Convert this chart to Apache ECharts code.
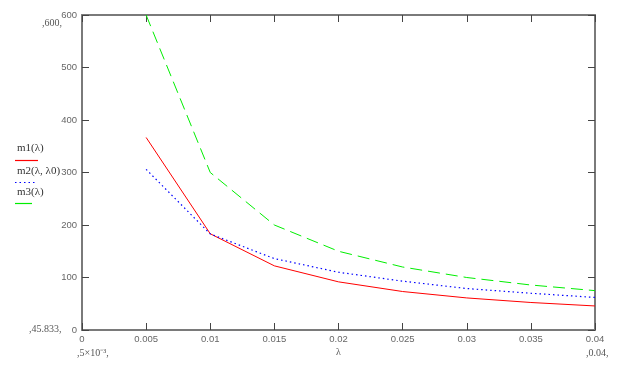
<!DOCTYPE html>
<html>
<head>
<meta charset="utf-8">
<script src="https://cdn.jsdelivr.net/npm/echarts@6/dist/echarts.min.js"></script>
<style>html,body{margin:0;padding:0;background:#fff}#c{width:623px;height:365px}</style>
</head>
<body>
<div id="c"></div>
<script>
// Data
const lambdas = [0.005, 0.01, 0.015, 0.02, 0.025, 0.03, 0.035, 0.04];
const m1 = [366.7, 183.3, 122.2, 91.7, 73.3, 61.1, 52.4, 45.8];
const m2 = [306, 183, 136, 110, 93, 79, 70, 62];
const m3 = [600, 300, 200, 150, 120, 100, 85.7, 75];
const seriesNames = ['m1(λ)', 'm2(λ, λ0)', 'm3(λ)'];
const xTicks = { min: 0, max: 0.04, step: 0.005 };
const yTicks = { min: 0, max: 600, step: 100 };
const limitLabels = { yTop: ',600,', yBottom: ',45.833,', xLeft: ',5×10⁻³,', xRight: ',0.04,', xTitle: 'λ' };

const pairs = arr => lambdas.map((x, i) => [x, arr[i]]);
const fmtX = v => String(+v.toFixed(4));

const chart = echarts.init(document.getElementById('c'));
const axisLineStyle = { show: true, onZero: false, lineStyle: { color: '#7a7a7a', width: 2 } };
const tickStyle = { show: true, inside: true, length: 7, lineStyle: { color: '#444', width: 1 } };
const labelFont = { color: '#666', fontFamily: 'Liberation Sans', fontSize: 9.5 };

const txt = (text, x, y, font, fill) => ({
  type: 'text', left: x, top: y,
  style: { text, fill: fill || '#555', font: font || '10px "Liberation Serif"' }
});
const legendFont = '11px "Liberation Serif"';

chart.setOption({
  animation: false,
  backgroundColor: '#fff',
  grid: { left: 82, top: 15, right: 28, bottom: 35, containLabel: false },
  xAxis: [
    { type: 'value', min: xTicks.min, max: xTicks.max, interval: xTicks.step, position: 'bottom',
      axisLine: axisLineStyle, axisTick: tickStyle, splitLine: { show: false },
      axisLabel: Object.assign({ margin: 4, formatter: fmtX }, labelFont) },
    { type: 'value', min: xTicks.min, max: xTicks.max, interval: xTicks.step, position: 'top',
      axisLine: axisLineStyle, axisTick: tickStyle, splitLine: { show: false },
      axisLabel: { show: false } }
  ],
  yAxis: [
    { type: 'value', min: yTicks.min, max: yTicks.max, interval: yTicks.step, position: 'left',
      axisLine: axisLineStyle, axisTick: tickStyle, splitLine: { show: false },
      axisLabel: Object.assign({ margin: 5 }, labelFont) },
    { type: 'value', min: yTicks.min, max: yTicks.max, interval: yTicks.step, position: 'right',
      axisLine: axisLineStyle, axisTick: tickStyle, splitLine: { show: false },
      axisLabel: { show: false } }
  ],
  series: [
    { name: seriesNames[0], type: 'line', data: pairs(m1), showSymbol: false, silent: true,
      lineStyle: { color: '#ff0000', width: 1, type: 'solid' } },
    { name: seriesNames[1], type: 'line', data: pairs(m2), showSymbol: false, silent: true,
      lineStyle: { color: '#0000ff', width: 1.2, type: [1.5, 3] } },
    { name: seriesNames[2], type: 'line', data: pairs(m3), showSymbol: false, silent: true,
      lineStyle: { color: '#00ee00', width: 1, type: [12, 6] } }
  ],
  graphic: [
    txt(seriesNames[0], 17, 143, legendFont, '#333'),
    { type: 'line', shape: { x1: 15, y1: 160.5, x2: 38, y2: 160.5 }, style: { stroke: '#ff0000', lineWidth: 1.2 } },
    txt(seriesNames[1], 17, 166, legendFont, '#333'),
    { type: 'line', shape: { x1: 15, y1: 182.5, x2: 36, y2: 182.5 }, style: { stroke: '#0000ff', lineWidth: 1.2, lineDash: [1.5, 3] } },
    txt(seriesNames[2], 17, 187, legendFont, '#333'),
    { type: 'line', shape: { x1: 15, y1: 203.5, x2: 32, y2: 203.5 }, style: { stroke: '#00ee00', lineWidth: 1.2 } },
    txt(limitLabels.yTop, 42, 18),
    txt(limitLabels.yBottom, 29, 324),
    txt(limitLabels.xLeft, 77, 348),
    txt(limitLabels.xRight, 586, 348),
    txt(limitLabels.xTitle, 336, 347)
  ]
});
</script>
</body>
</html>
